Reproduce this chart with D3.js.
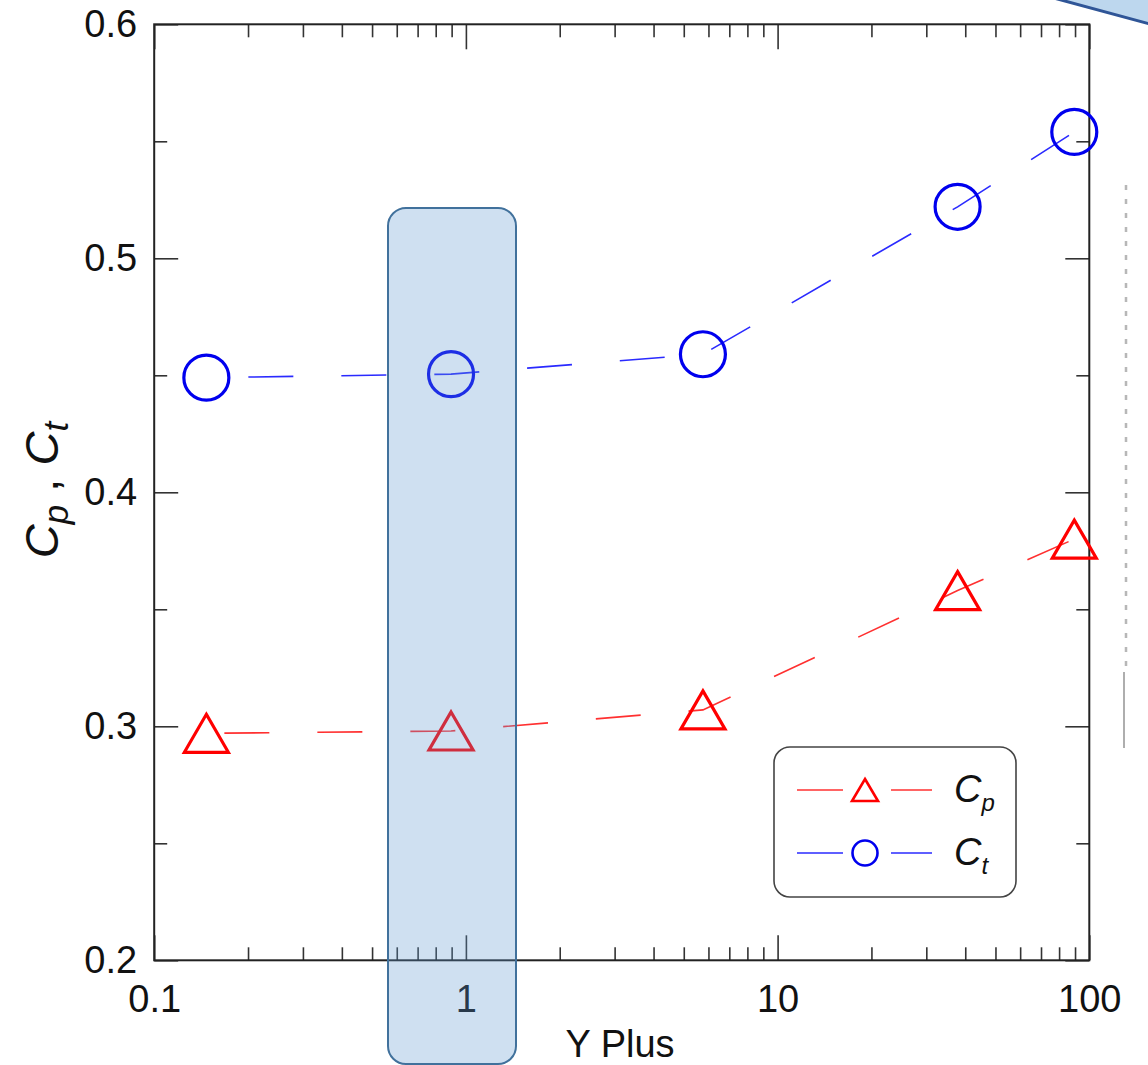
<!DOCTYPE html>
<html>
<head>
<meta charset="utf-8">
<script src="https://cdn.jsdelivr.net/npm/d3@7"></script>
<style>
  body { margin: 0; background: #fff; }
  svg { display: block; }
  text { font-family: "Liberation Sans", Arial, sans-serif; fill: #111; }
</style>
</head>
<body>
<div id="chart"></div>
<script>
// data
var yPlus = [0.147, 0.896, 5.76, 37.8, 89.5];
var cpValues = [0.297, 0.298, 0.307, 0.358, 0.380];
var ctValues = [0.449, 0.4505, 0.459, 0.522, 0.554];
var xMajorTicks = [0.1, 1, 10, 100];
var yMajorTicks = [0.2, 0.3, 0.4, 0.5, 0.6];
var yMinorTicks = [0.25, 0.35, 0.45, 0.55];
var seriesNames = ["p", "t"];

(function () {
    var width = 1148, height = 1065;
    var plotLeft = 154.2, plotRight = 1089.3, plotTop = 24.3, plotBottom = 960.3;

    var svg = d3.select("#chart").append("svg")
        .attr("width", width).attr("height", height);

    var x = d3.scaleLog().domain([0.1, 100]).range([plotLeft, plotRight]);
    var y = d3.scaleLinear().domain([0.2, 0.6]).range([plotBottom, plotTop]);

    // minor log ticks 2..9 per decade
    var xMinorTicks = [];
    [0.1, 1, 10].forEach(function (d) {
        for (var k = 2; k <= 9; k++) xMinorTicks.push(d * k);
    });

    function styleAxis(g) {
        g.select(".domain").remove();
        g.selectAll(".tick line").attr("stroke", "#333").attr("stroke-width", 1.6);
        g.selectAll(".tick text").attr("font-size", 38).attr("fill", "#111")
            .attr("font-family", "Liberation Sans, Arial, sans-serif");
    }

    // bottom
    svg.append("g").attr("transform", "translate(0," + plotBottom + ")")
        .call(d3.axisBottom(x).tickValues(xMajorTicks).tickSize(-25).tickSizeOuter(0)
            .tickPadding(25).tickFormat(d3.format("~g")))
        .call(styleAxis);
    svg.append("g").attr("transform", "translate(0," + plotBottom + ")")
        .call(d3.axisBottom(x).tickValues(xMinorTicks).tickSize(-13).tickFormat(""))
        .call(styleAxis);
    // top
    svg.append("g").attr("transform", "translate(0," + plotTop + ")")
        .call(d3.axisTop(x).tickValues(xMajorTicks).tickSize(-25).tickFormat(""))
        .call(styleAxis);
    svg.append("g").attr("transform", "translate(0," + plotTop + ")")
        .call(d3.axisTop(x).tickValues(xMinorTicks).tickSize(-13).tickFormat(""))
        .call(styleAxis);
    // left
    svg.append("g").attr("transform", "translate(" + plotLeft + ",0)")
        .call(d3.axisLeft(y).tickValues(yMajorTicks).tickSize(-24).tickPadding(17)
            .tickFormat(d3.format(".1f")))
        .call(styleAxis);
    svg.append("g").attr("transform", "translate(" + plotLeft + ",0)")
        .call(d3.axisLeft(y).tickValues(yMinorTicks).tickSize(-13).tickFormat(""))
        .call(styleAxis);
    // right
    svg.append("g").attr("transform", "translate(" + plotRight + ",0)")
        .call(d3.axisRight(y).tickValues(yMajorTicks).tickSize(-24).tickFormat(""))
        .call(styleAxis);
    svg.append("g").attr("transform", "translate(" + plotRight + ",0)")
        .call(d3.axisRight(y).tickValues(yMinorTicks).tickSize(-13).tickFormat(""))
        .call(styleAxis);

    // frame
    svg.append("rect")
        .attr("x", plotLeft).attr("y", plotTop)
        .attr("width", plotRight - plotLeft).attr("height", plotBottom - plotTop)
        .attr("fill", "none").attr("stroke", "#222").attr("stroke-width", 2);

    // axis titles
    svg.append("text")
        .attr("x", 620).attr("y", 1057)
        .attr("text-anchor", "middle")
        .attr("font-size", 38)
        .text("Y Plus");

    var yTitle = svg.append("text")
        .attr("transform", "translate(58,490) rotate(-90)")
        .attr("text-anchor", "middle")
        .attr("font-size", 47);
    yTitle.append("tspan").attr("font-style", "italic").text("C");
    yTitle.append("tspan").attr("font-style", "italic").attr("font-size", 35).attr("dy", 10).text(seriesNames[0]);
    yTitle.append("tspan").attr("dy", -10).text(" , ");
    yTitle.append("tspan").attr("font-style", "italic").text("C");
    yTitle.append("tspan").attr("font-style", "italic").attr("font-size", 35).attr("dy", 10).text(seriesNames[1]);

    // series
    var cpData = yPlus.map(function (d, i) { return { x: d, y: cpValues[i] }; });
    var ctData = yPlus.map(function (d, i) { return { x: d, y: ctValues[i] }; });

    var line = d3.line()
        .x(function (d) { return x(d.x); })
        .y(function (d) { return y(d.y); });

    svg.append("path").datum(ctData)
        .attr("d", line)
        .attr("fill", "none").attr("stroke", "#2a2aff").attr("stroke-width", 1.6)
        .attr("stroke-dasharray", "45,48").attr("stroke-dashoffset", 51);

    svg.append("path").datum(cpData)
        .attr("d", line)
        .attr("fill", "none").attr("stroke", "#ff3030").attr("stroke-width", 1.6)
        .attr("stroke-dasharray", "45,48").attr("stroke-dashoffset", 75);

    function triPath(w, h) {
        return "M0," + (-h / 2) + "L" + (w / 2) + "," + (h / 2) + "L" + (-w / 2) + "," + (h / 2) + "Z";
    }

    svg.append("g").selectAll("circle")
        .data(ctData).enter().append("circle")
        .attr("cx", function (d) { return x(d.x); })
        .attr("cy", function (d) { return y(d.y); })
        .attr("r", 22.5)
        .attr("fill", "none").attr("stroke", "#0000ee").attr("stroke-width", 3.2);

    svg.append("g").selectAll("path")
        .data(cpData).enter().append("path")
        .attr("transform", function (d) { return "translate(" + x(d.x) + "," + y(d.y) + ")"; })
        .attr("d", triPath(44, 38))
        .attr("fill", "none").attr("stroke", "#ff0000").attr("stroke-width", 3.2)
        .attr("stroke-linejoin", "miter");

    // legend
    var legend = svg.append("g").attr("transform", "translate(774,747)");
    legend.append("rect")
        .attr("width", 242).attr("height", 150).attr("rx", 16)
        .attr("fill", "#fff").attr("stroke", "#444").attr("stroke-width", 1.6);

    var rows = [
        { name: seriesNames[0], color: "#ff3030", dy: 43 },
        { name: seriesNames[1], color: "#2a2aff", dy: 106 }
    ];
    rows.forEach(function (r, i) {
        var g = legend.append("g").attr("transform", "translate(0," + r.dy + ")");
        g.append("line").attr("x1", 23).attr("x2", 69).attr("stroke", r.color).attr("stroke-width", 1.6);
        g.append("line").attr("x1", 117).attr("x2", 158).attr("stroke", r.color).attr("stroke-width", 1.6);
        if (i === 0) {
            g.append("path").attr("transform", "translate(91,0)")
                .attr("d", triPath(26, 22))
                .attr("fill", "none").attr("stroke", "#ff0000").attr("stroke-width", 2.6);
        } else {
            g.append("circle").attr("cx", 91).attr("r", 12.5)
                .attr("fill", "none").attr("stroke", "#0000ee").attr("stroke-width", 2.6);
        }
        var t = g.append("text").attr("x", 180).attr("y", 12).attr("font-size", 38);
        t.append("tspan").attr("font-style", "italic").text("C");
        t.append("tspan").attr("font-style", "italic").attr("font-size", 24).attr("dy", 9).text(r.name);
    });

    // faint cropped text remnants at right edge
    svg.append("line")
        .attr("x1", 1126).attr("x2", 1126).attr("y1", 185).attr("y2", 670)
        .attr("stroke", "#888").attr("stroke-width", 2.5)
        .attr("stroke-dasharray", "5,9").attr("opacity", 0.6);
    svg.append("line")
        .attr("x1", 1124).attr("x2", 1124).attr("y1", 672).attr("y2", 748)
        .attr("stroke", "#666").attr("stroke-width", 1.5).attr("opacity", 0.7);

    // highlight box over the Y+ = 1 column
    svg.append("rect")
        .attr("x", 388).attr("y", 208)
        .attr("width", 128).attr("height", 856).attr("rx", 18)
        .attr("fill", "rgb(95,152,208)").attr("fill-opacity", 0.3)
        .attr("stroke", "#41719c").attr("stroke-width", 2);

    // callout corner at top right
    svg.append("path")
        .attr("d", "M1050,-3L1150,24L1150,-3Z")
        .attr("fill", "#bdd7ee").attr("stroke", "#2f5597").attr("stroke-width", 3);
})();
</script>
</body>
</html>
